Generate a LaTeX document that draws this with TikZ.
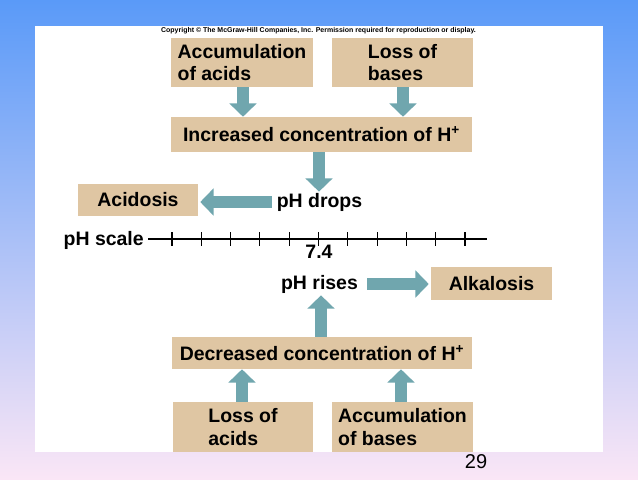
\documentclass[tikz,border=0pt]{standalone}
\usepackage{fontspec}
\setmainfont{Liberation Sans}
\usepackage{graphicx}
\usetikzlibrary{arrows.meta,calc}
\definecolor{tanbox}{HTML}{DFC6A3}
\definecolor{teal}{HTML}{70A6AE}
\definecolor{bgtop}{HTML}{5A9AF8}
\definecolor{bgmid}{HTML}{92C2FA}
\definecolor{bgbot}{HTML}{FAE6F6}
\tikzset{
  box/.style={fill=tanbox, inner sep=0pt, align=left, font=\fontsize{14.6}{16.8}\selectfont\bfseries},
  lbl/.style={inner sep=0pt, font=\fontsize{14.6}{16.8}\selectfont\bfseries},
  blockarrow/.style={draw=teal, line width=9pt, -{Triangle[width=20pt,length=10pt]}, teal},
  tick/.style={line width=0.8pt}
}
\begin{document}
\begin{tikzpicture}[x=0.75pt,y=-0.75pt]
\useasboundingbox (0,0) rectangle (638,479);
\shade[top color=bgtop, middle color=bgmid, bottom color=bgbot] (0,0) rectangle (638,479);
\fill[white] (35,26) rectangle (603,452);
\node[inner sep=0pt] (copy) at (318.5,30.5) {\resizebox{236pt}{!}{\bfseries Copyright \textcopyright\ The McGraw-Hill Companies, Inc. Permission required for reproduction or display.}};
% top
\node[box, minimum width=142*0.75pt, minimum height=49*0.75pt] (accA) at (242,62.5) {Accumulation\\of acids};
\node[box, minimum width=141*0.75pt, minimum height=49*0.75pt] (lossB) at (402.5,62.5) {Loss of\\bases};
\node[box, minimum width=301*0.75pt, minimum height=35*0.75pt] (inc) at (321.5,134.5) {Increased concentration of H\textsuperscript{+}};
\node[lbl] (drops) at (319.5,202) {pH drops};
\node[box, minimum width=120*0.75pt, minimum height=32*0.75pt] (acid) at (138,200) {Acidosis};
% scale
\coordinate (s0) at (148,239);
\coordinate (s1) at (487,239);
\draw[tick] (s0) -- (s1);
\foreach \k in {0,...,10} {
  \draw[tick] ({172+29.3*\k},232) -- ({172+29.3*\k},246);
}
\node[lbl, anchor=base east] (scale) at (144,245) {pH scale};
\node[lbl, anchor=base] (seven) at (319,258) {7.4};
% bottom
\node[lbl] (rises) at (319.5,284) {pH rises};
\node[box, minimum width=121*0.75pt, minimum height=33*0.75pt] (alk) at (491.5,283.5) {Alkalosis};
\node[box, minimum width=300*0.75pt, minimum height=32*0.75pt] (dec) at (322,353) {Decreased concentration of H\textsuperscript{+}};
\node[box, minimum width=140*0.75pt, minimum height=50*0.75pt] (lossA) at (243,427) {Loss of\\acids};
\node[box, minimum width=141*0.75pt, minimum height=50*0.75pt] (accB) at (402.5,427) {Accumulation\\of bases};
% arrows
\draw[blockarrow] (accA.south -| 243,0) -- (inc.north -| 243,0);
\draw[blockarrow] (lossB.south -| 403,0) -- (inc.north -| 403,0);
\draw[blockarrow] (inc.south -| 319,0) -- ($(drops.north -| 319,0)+(0,-1)$);
\draw[blockarrow] ($(drops.west)+(-5,0)$) -- ($(acid.east |- drops.west)+(2,0)$);
\draw[blockarrow] ($(rises.east)+(9,0)$) -- ($(alk.west |- rises.east)+(-2,0)$);
\draw[blockarrow] (dec.north -| 321,0) -- ($(rises.south -| 321,0)+(0,2)$);
\draw[blockarrow] (lossA.north -| 242,0) -- (dec.south -| 242,0);
\draw[blockarrow] (accB.north -| 401,0) -- (dec.south -| 401,0);
\node[inner sep=0pt, font=\fontsize{15}{18}\selectfont] (page) at (476,462) {29};
\end{tikzpicture}
\end{document}
